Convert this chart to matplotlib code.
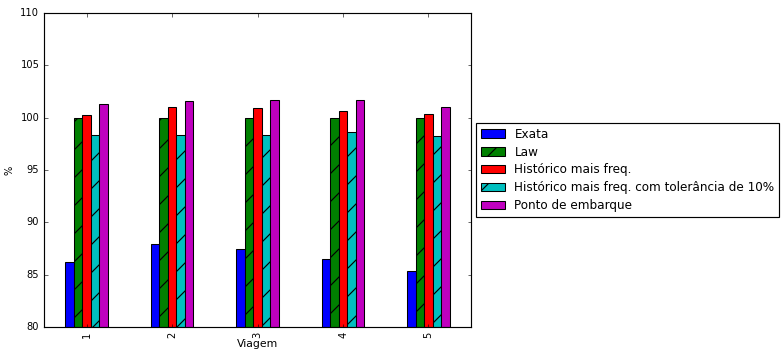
import matplotlib
matplotlib.use("Agg")
import matplotlib.pyplot as plt
import numpy as np

plt.style.use("classic")

trips = ["1", "2", "3", "4", "5"]
exata = [86.2, 87.9, 87.4, 86.5, 85.35]
law = [100.0, 100.0, 100.0, 100.0, 100.0]
hist_freq = [100.28, 101.05, 100.9, 100.6, 100.3]
hist_freq_tol = [98.3, 98.3, 98.3, 98.6, 98.2]
ponto_embarque = [101.3, 101.6, 101.7, 101.7, 101.0]

series = [
    ("Exata", exata, "b", None),
    ("Law", law, "g", "/"),
    ("Histórico mais freq.", hist_freq, "r", None),
    ("Histórico mais freq. com tolerância de 10%", hist_freq_tol, "c", "/"),
    ("Ponto de embarque", ponto_embarque, "m", None),
]

DPI = 84
fig = plt.figure(figsize=(784 / DPI, 350 / DPI), dpi=DPI, facecolor="white")
ax = fig.add_axes([0.056, 0.066, 0.545, 0.897])

x = np.arange(len(trips))
width = 0.1
n = len(series)
for i, (name, vals, color, hatch) in enumerate(series):
    offs = (i - (n - 1) / 2) * width
    ax.bar(x + offs, np.array(vals) - 80, width, bottom=80, color=color,
           hatch=hatch, edgecolor="k", linewidth=0.9, label=name, align="center")

ax.set_xlim(-0.5, len(trips) - 0.5)
ax.set_ylim(80, 110)
ax.set_yticks(np.arange(80, 111, 5))
ax.set_xticks(x)
ax.set_xticklabels(trips, rotation=90)
ax.tick_params(labelsize=8.5, length=3)
ax.set_xlabel("Viagem", fontsize=9.3, labelpad=1)
ax.set_ylabel("%", fontsize=8.5)

ax.legend(loc="center left", bbox_to_anchor=(1.0, 0.5), fontsize=10.3,
          borderaxespad=0.4, handlelength=2.0, labelspacing=0.4,
          frameon=True, fancybox=False)

fig.savefig("out.png", dpi=DPI, facecolor="white")
